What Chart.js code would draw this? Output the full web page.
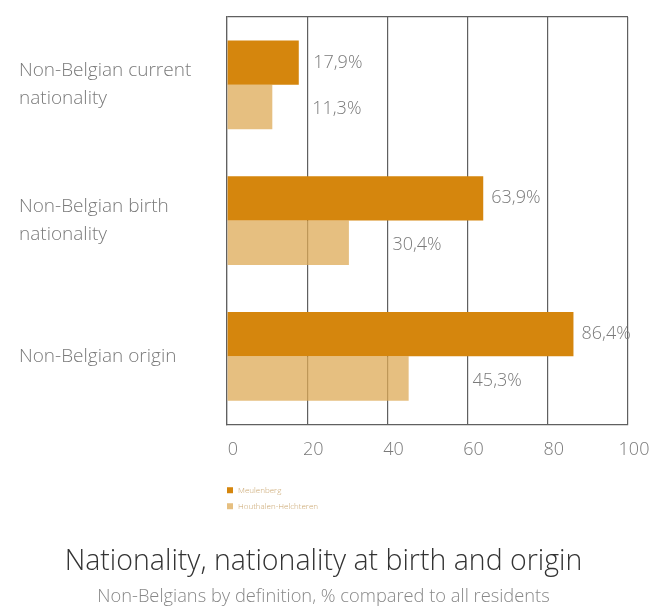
<!DOCTYPE html>
<html>
<head>
<meta charset="utf-8">
<script src="https://cdn.jsdelivr.net/npm/chart.js@4"></script>
<style>
  html, body { margin: 0; padding: 0; background: #fff; }
  #wrap { width: 662px; height: 614px; }
</style>
</head>
<body>
<div id="wrap"><canvas id="natChart"></canvas></div>
<script>
const categories = [
  ['Non-Belgian current', 'nationality'],
  ['Non-Belgian birth', 'nationality'],
  ['Non-Belgian origin']
];
const seriesNames = ['Meulenberg', 'Houthalen-Helchteren'];
const meulenberg = [17.9, 63.9, 86.4];
const houthalen = [11.3, 30.4, 45.3];
const xTicks = [0, 20, 40, 60, 80, 100];

const darkColor = '#d5860d';
const lightColor = 'rgba(222, 170, 85, 0.75)';
const fontFamily = '"Open Sans", Lato, sans-serif';

function pct(v) {
  return v.toFixed(1).replace('.', ',') + '%';
}

// value labels + small legend under the axis
const extras = {
  id: 'extras',
  afterDatasetsDraw(chart) {
    const ctx = chart.ctx;
    const xs = chart.scales.x;
    ctx.save();
    ctx.font = '300 18px ' + fontFamily;
    ctx.fillStyle = '#7a7a7a';
    ctx.textBaseline = 'middle';
    ctx.textAlign = 'left';
    chart.getDatasetMeta(0).data.forEach((bar, i) => {
      const g = xs.getPixelForValue(Math.ceil(meulenberg[i] / 20) * 20);
      // hop over a gridline that sits right after the bar
      const x = (g - bar.x < 15) ? g + 6 : bar.x + 8;
      ctx.fillText(pct(meulenberg[i]), x, bar.y);
    });
    chart.getDatasetMeta(1).data.forEach((bar, i) => {
      // light labels sit just past the next gridline
      const next = Math.ceil(houthalen[i] / 20) * 20;
      ctx.fillText(pct(houthalen[i]), xs.getPixelForValue(next) + 5, bar.y + 2);
    });

    const left = chart.chartArea.left;
    const base = chart.chartArea.bottom;
    const cols = [darkColor, '#e6bf80'];
    ctx.font = '300 8px ' + fontFamily;
    seriesNames.forEach((name, i) => {
      const y = base + 66 + i * 16;
      ctx.fillStyle = cols[i];
      ctx.fillRect(left, y - 3, 6, 6);
      ctx.fillStyle = '#c9a46c';
      ctx.fillText(name, left + 11, y);
    });
    ctx.restore();
  }
};

new Chart(document.getElementById('natChart'), {
  type: 'bar',
  data: {
    labels: categories,
    datasets: [
      {
        label: seriesNames[0],
        data: meulenberg,
        backgroundColor: darkColor,
        categoryPercentage: 0.655,
        barPercentage: 1
      },
      {
        label: seriesNames[1],
        data: houthalen,
        backgroundColor: lightColor,
        categoryPercentage: 0.655,
        barPercentage: 1
      }
    ]
  },
  options: {
    indexAxis: 'y',
    responsive: true,
    maintainAspectRatio: false,
    animation: false,
    layout: { padding: { left: 19, right: 34, top: 12, bottom: 0 } },
    scales: {
      x: {
        min: 0,
        max: 100,
        afterBuildTicks: (scale) => {
          scale.ticks = xTicks.map(v => ({ value: v }));
        },
        grid: { color: '#606060', lineWidth: 1.2, drawTicks: false },
        border: { color: '#606060', width: 1.2 },
        ticks: {
          padding: 15,
          labelOffset: 6,
          color: '#7a7a7a',
          font: { family: fontFamily, size: 18, weight: 300 }
        }
      },
      y: {
        afterFit: (scale) => { scale.width = 208; },
        grid: {
          drawTicks: false,
          lineWidth: 1.2,
          color: (c) => (c.index === 0 ? '#606060' : 'rgba(0,0,0,0)')
        },
        border: { color: '#606060', width: 1.2 },
        ticks: {
          crossAlign: 'far',
          color: '#7a7a7a',
          font: { family: fontFamily, size: 19, weight: 300, lineHeight: 1.47 }
        }
      }
    },
    plugins: {
      legend: { display: false },
      tooltip: { enabled: false },
      title: {
        display: true,
        position: 'bottom',
        text: 'Nationality, nationality at birth and origin',
        color: '#333',
        font: { family: fontFamily, size: 28.5, weight: 300 },
        padding: { top: 69, bottom: 3 },
        weight: 1100
      },
      subtitle: {
        display: true,
        position: 'bottom',
        text: 'Non-Belgians by definition, % compared to all residents',
        color: '#888',
        font: { family: fontFamily, size: 18.3, weight: 300 },
        padding: { top: 4, bottom: 6 },
        weight: 1200
      }
    }
  },
  plugins: [extras]
});
</script>
</body>
</html>
